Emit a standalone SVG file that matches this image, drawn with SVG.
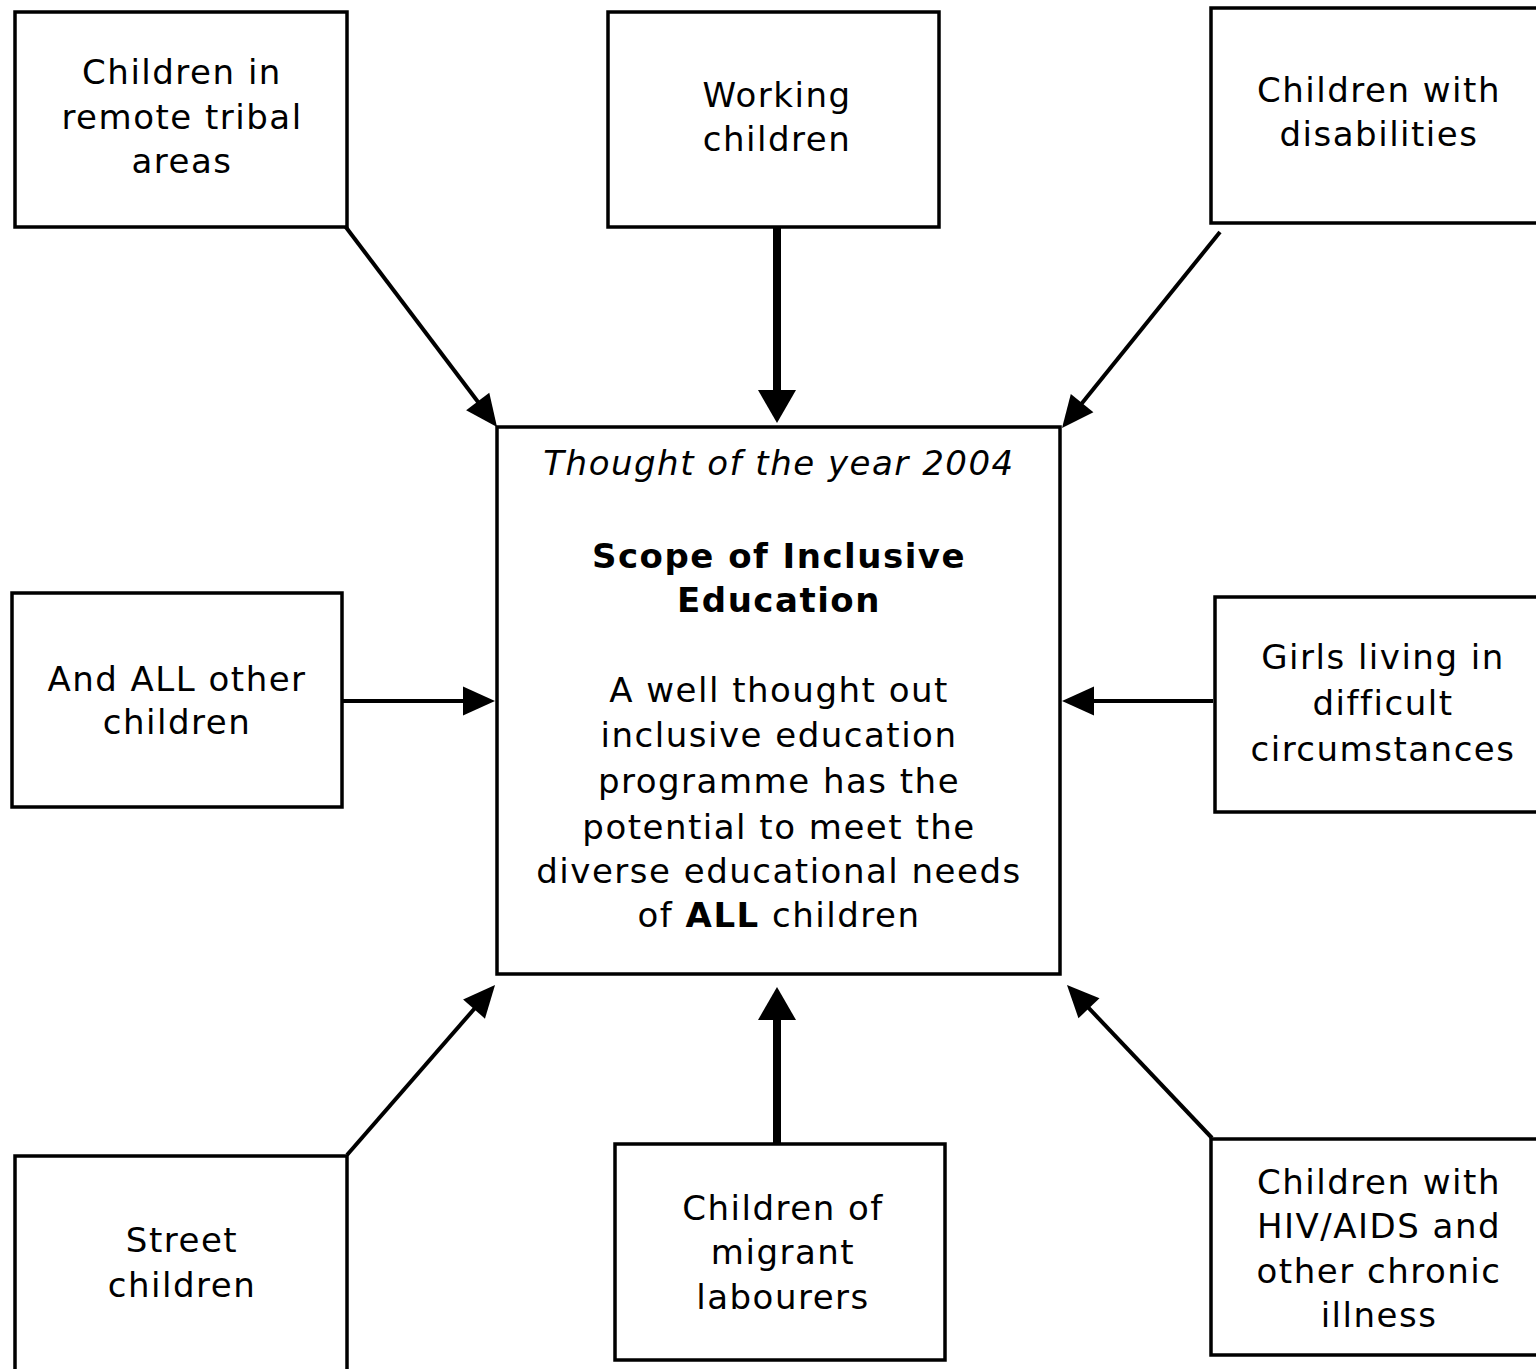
<svg xmlns="http://www.w3.org/2000/svg" width="1536" height="1369" viewBox="0 0 1536 1369">
<style>
.box{fill:#fff;stroke:#000;stroke-width:3.5}
.t{font-family:"DejaVu Sans",Verdana,sans-serif;font-size:34px;letter-spacing:1.5px;text-anchor:middle;fill:#000}
.i{font-style:italic}
.b{font-weight:bold}
.c{stroke:#000;stroke-width:4;fill:none;marker-end:url(#ah)}
.cv{stroke:#000;stroke-width:8;fill:none;marker-end:url(#ahv)}
</style>
<defs>
<marker id="ah" markerUnits="userSpaceOnUse" orient="auto" refX="26" refY="0" markerWidth="40" markerHeight="40" viewBox="0 -20 40 40" overflow="visible">
<path d="M0,-14.5 L32,0 L0,14.5 z" fill="#000"/>
</marker>
<marker id="ahv" markerUnits="userSpaceOnUse" orient="auto" refX="23" refY="0" markerWidth="40" markerHeight="44" viewBox="0 -22 40 44" overflow="visible">
<path d="M0,-19 L33,0 L0,19 z" fill="#000"/>
</marker>
</defs>
<rect x="0" y="0" width="1536" height="1369" fill="#fff"/>
<g id="connectors">
<line class="c" x1="345" y1="226" x2="493.4" y2="422.2"/>
<line class="cv" x1="777" y1="227" x2="777" y2="413"/>
<line class="c" x1="1220" y1="232" x2="1065.8" y2="423.3"/>
<line class="c" x1="342" y1="701" x2="489" y2="701"/>
<line class="c" x1="1213" y1="701" x2="1068" y2="701"/>
<line class="c" x1="347" y1="1155" x2="491.1" y2="989.5"/>
<line class="cv" x1="777" y1="1144" x2="777" y2="997"/>
<line class="c" x1="1212" y1="1138" x2="1071.1" y2="989.4"/>
</g>
<g id="n-tribal">
<rect class="box" x="15" y="12" width="332" height="215"/>
<text class="t" x="182" y="84">Children in</text>
<text class="t" x="182" y="129">remote tribal</text>
<text class="t" x="182" y="173">areas</text>
</g>
<g id="n-working">
<rect class="box" x="608" y="12" width="331" height="215"/>
<text class="t" x="777" y="107">Working</text>
<text class="t" x="777" y="151">children</text>
</g>
<g id="n-disabilities">
<rect class="box" x="1211" y="8" width="335" height="215"/>
<text class="t" x="1379" y="102">Children with</text>
<text class="t" x="1379" y="146">disabilities</text>
</g>
<g id="n-all">
<rect class="box" x="12" y="593" width="330" height="214"/>
<text class="t" x="177" y="691">And ALL other</text>
<text class="t" x="177" y="734">children</text>
</g>
<g id="n-center">
<rect class="box" x="497" y="427" width="563" height="547"/>
<text class="t i" x="779" y="475">Thought of the year 2004</text>
<text class="t b" x="779" y="568">Scope of Inclusive</text>
<text class="t b" x="779" y="612">Education</text>
<text class="t" x="779" y="702">A well thought out</text>
<text class="t" x="779" y="747">inclusive education</text>
<text class="t" x="779" y="793">programme has the</text>
<text class="t" x="779" y="839">potential to meet the</text>
<text class="t" x="779" y="883">diverse educational needs</text>
<text class="t" x="779" y="927">of <tspan class="b">ALL</tspan> children</text>
</g>
<g id="n-girls">
<rect class="box" x="1215" y="597" width="331" height="215"/>
<text class="t" x="1383" y="669">Girls living in</text>
<text class="t" x="1383" y="715">difficult</text>
<text class="t" x="1383" y="761">circumstances</text>
</g>
<g id="n-street">
<rect class="box" x="15" y="1156" width="332" height="230"/>
<text class="t" x="182" y="1252">Street</text>
<text class="t" x="182" y="1297">children</text>
</g>
<g id="n-migrant">
<rect class="box" x="615" y="1144" width="330" height="216"/>
<text class="t" x="783" y="1220">Children of</text>
<text class="t" x="783" y="1264">migrant</text>
<text class="t" x="783" y="1309">labourers</text>
</g>
<g id="n-hiv">
<rect class="box" x="1211" y="1139" width="335" height="216"/>
<text class="t" x="1379" y="1194">Children with</text>
<text class="t" x="1379" y="1238">HIV/AIDS and</text>
<text class="t" x="1379" y="1283">other chronic</text>
<text class="t" x="1379" y="1327">illness</text>
</g>
</svg>
